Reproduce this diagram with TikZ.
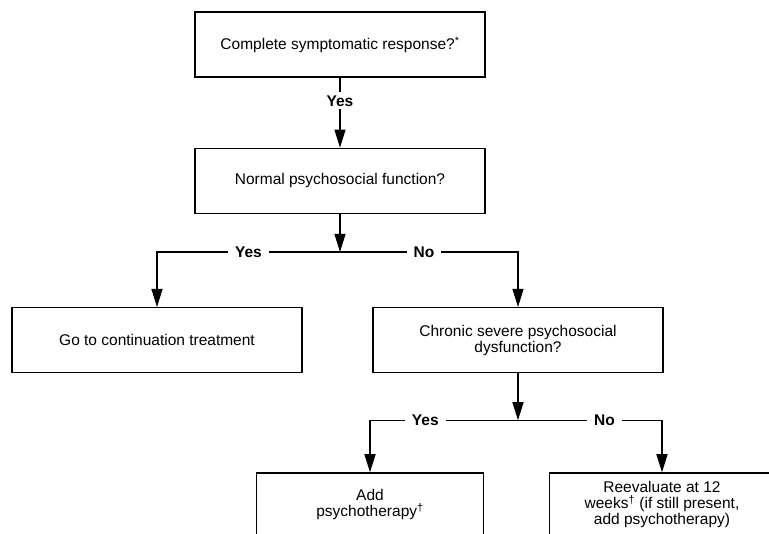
\documentclass[tikz,border=0pt]{standalone}
\usepackage{fontspec}
\setmainfont{Liberation Sans}
\usetikzlibrary{positioning,arrows.meta}
\begin{document}
\begin{tikzpicture}
  [->, >={Triangle[length=18pt,width=11pt]}, x=1pt, y=-1pt,
    line width=1.3pt, align=center,
    font=\fontsize{15.5}{16}\selectfont,
    block/.style={%
      rectangle, draw, minimum width=290pt, minimum height=65pt,
      inner sep=2pt
    },
    answer/.style={%
      fill=white, inner xsep=7pt, inner ysep=3pt,
      font=\fontsize{15.5}{16}\selectfont\bfseries
    },
  ]

  \clip (0,0) rectangle (769,534);

  \node[block] (q1) at (340,44.5) {Complete symptomatic response?\textsuperscript{*}};
  \node[block] (q2) [below=70pt of q1] {Normal psychosocial function?};
  \coordinate[below=38pt of q2] (j1);
  \node[block] (q3) [below=93pt of q2, xshift=-183pt] {Go to continuation treatment};
  \node[block] (q4) [below=93pt of q2, xshift=178pt] {Chronic severe psychosocial\\dysfunction?};
  \coordinate[below=47pt of q4] (j2);
  \node[block, minimum width=227pt, minimum height=64pt] (q5)
    [below=99pt of q4, xshift=-148pt] {Add\\psychotherapy\textsuperscript{†}};
  \node[block, minimum width=225pt, minimum height=64pt] (q6)
    [below=99pt of q4, xshift=144pt] {Reevaluate at 12\\weeks\textsuperscript{†} (if still present,\\add psychotherapy)};

  \draw (q1) -- node[answer, pos=0.33] {Yes} (q2);
  \draw (q2) -- (j1);
  \draw (j1) -| node[answer, pos=0.25] {Yes} (q3);
  \draw (j1) -| node[answer, pos=0.236] {No} (q4);

  \draw (q4) -- (j2);
  \draw (j2) -| node[answer, pos=0.313] {Yes} (q5);
  \draw (j2) -| node[answer, pos=0.3] {No} (q6);

\end{tikzpicture}
\end{document}
